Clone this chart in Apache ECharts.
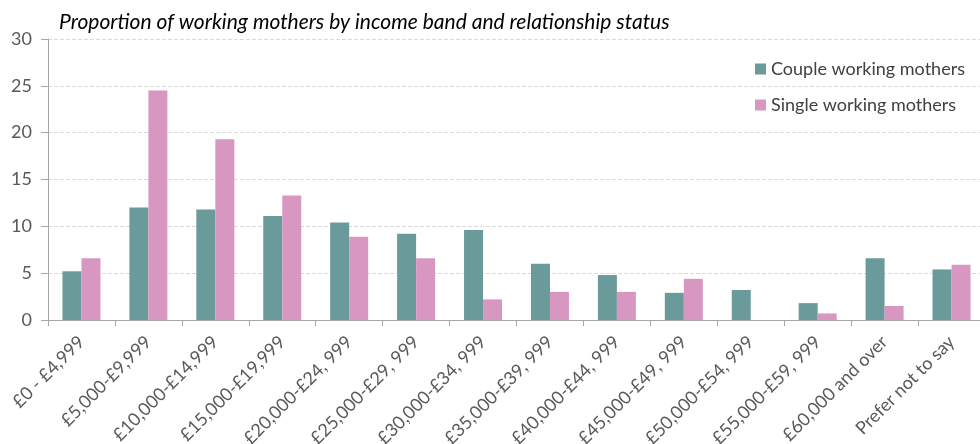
<!DOCTYPE html>
<html>
<head>
<meta charset="utf-8">
<script src="https://cdn.jsdelivr.net/npm/echarts@6/dist/echarts.min.js"></script>
<style>html,body{margin:0;padding:0;background:#fff}#c{width:980px;height:444px}</style>
</head>
<body>
<div id="c"></div>
<script>
const categories = ["£0 - £4,999","£5,000-£9,999","£10,000-£14,999","£15,000-£19,999","£20,000-£24, 999","£25,000-£29, 999","£30,000-£34, 999","£35,000-£39, 999","£40,000-£44, 999","£45,000-£49, 999","£50,000-£54, 999","£55,000-£59, 999","£60,000 and over","Prefer not to say"];
const coupleValues = [5.2, 12.0, 11.8, 11.1, 10.4, 9.2, 9.6, 6.0, 4.8, 2.9, 3.2, 1.8, 6.6, 5.4];
const singleValues = [6.6, 24.5, 19.3, 13.3, 8.9, 6.6, 2.2, 3.0, 3.0, 4.4, 0, 0.7, 1.5, 5.9];
const seriesNames = ["Couple working mothers", "Single working mothers"];
const titleText = "Proportion of working mothers by income band and relationship status";

const FONT = "Lato";
const chart = echarts.init(document.getElementById('c'), null, {renderer: 'canvas'});
chart.setOption({
  animation: false,
  backgroundColor: '#ffffff',
  title: {
    text: titleText,
    left: 54, top: 7,
    textStyle: {fontFamily: FONT, fontStyle: 'italic', fontWeight: 'normal', fontSize: 21, color: '#000000'}
  },
  legend: {
    orient: 'vertical',
    left: 750, top: 55,
    itemWidth: 11, itemHeight: 11, itemGap: 18,
    icon: 'rect',
    textStyle: {fontFamily: FONT, fontSize: 18, color: '#404040'},
    data: seriesNames
  },
  grid: {left: 48, top: 39, width: 937, height: 281, containLabel: false, outerBoundsMode: 'none'},
  xAxis: {
    type: 'category',
    data: categories,
    boundaryGap: true,
    axisLine: {lineStyle: {color: '#a6a6a6', width: 1}},
    axisTick: {show: true, length: 6, lineStyle: {color: '#a6a6a6'}},
    axisLabel: {rotate: 45, interval: 0, margin: 19, fontFamily: FONT, fontSize: 18, color: '#595959'}
  },
  yAxis: {
    type: 'value',
    min: 0, max: 30, interval: 5,
    axisLine: {show: true, lineStyle: {color: '#a6a6a6'}},
    axisTick: {show: true, length: 7, lineStyle: {color: '#a6a6a6'}},
    axisLabel: {margin: 16, fontFamily: FONT, fontSize: 18, color: '#595959'},
    splitLine: {lineStyle: {color: '#d9d9d9', type: 'dashed'}}
  },
  series: [
    {name: seriesNames[0], type: 'bar', data: coupleValues, barWidth: 19, barGap: '0%',
     itemStyle: {color: '#6a9a99'}},
    {name: seriesNames[1], type: 'bar', data: singleValues, barWidth: 19,
     itemStyle: {color: '#d897c1'}}
  ]
});
</script>
</body>
</html>
